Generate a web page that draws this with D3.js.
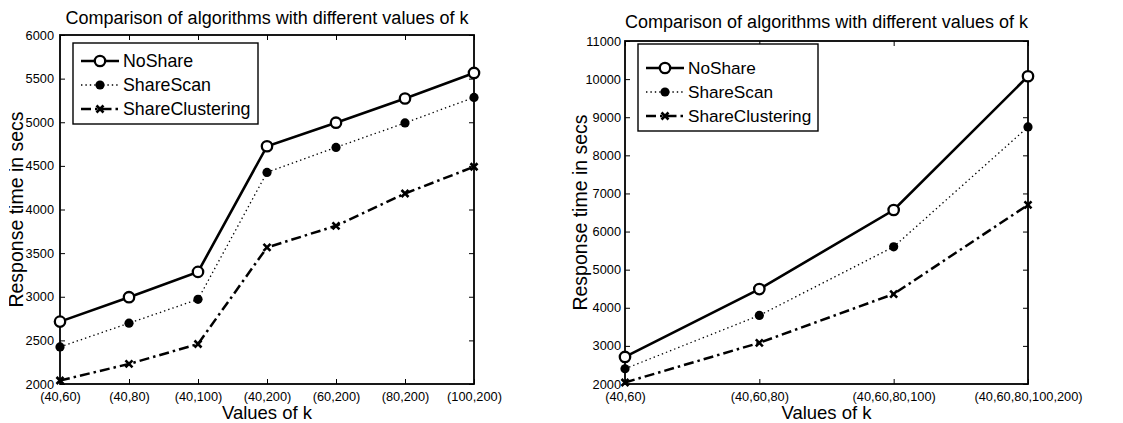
<!DOCTYPE html>
<html>
<head>
<meta charset="utf-8">
<script src="https://cdn.jsdelivr.net/npm/d3@7"></script>
<style>
  body { margin: 0; background: #fff; }
  svg text { font-family: "Liberation Sans", Arial, Helvetica, sans-serif; fill: #000; }
</style>
</head>
<body>
<svg id="chart" width="1123" height="423"></svg>
<script>
// ---- data ----
var seriesNames = ['NoShare', 'ShareScan', 'ShareClustering'];

var leftCategories = ['(40,60)', '(40,80)', '(40,100)', '(40,200)', '(60,200)', '(80,200)', '(100,200)'];
var leftNoShare = [2715, 2995, 3285, 4725, 4995, 5272, 5565];
var leftShareScan = [2425, 2697, 2970, 4425, 4712, 4992, 5285];
var leftShareClustering = [2040, 2230, 2458, 3565, 3813, 4183, 4490];
var leftTicks = [2000, 2500, 3000, 3500, 4000, 4500, 5000, 5500, 6000];

var rightCategories = ['(40,60)', '(40,60,80)', '(40,60,80,100)', '(40,60,80,100,200)'];
var rightNoShare = [2710, 4490, 6565, 10075];
var rightShareScan = [2400, 3800, 5600, 8745];
var rightShareClustering = [2040, 3080, 4360, 6700];
var rightTicks = [2000, 3000, 4000, 5000, 6000, 7000, 8000, 9000, 10000, 11000];

var titleText = 'Comparison of algorithms with different values of k';
var xLabelText = 'Values of k';
var yLabelText = 'Response time in secs';

// ---- drawing ----
var svg = d3.select('#chart');

var styles = {
  NoShare:         { width: 2.6, dash: null,          marker: 'circle' },
  ShareScan:       { width: 1.3, dash: '1.4,3',       marker: 'dot' },
  ShareClustering: { width: 2.5, dash: '10,4,2.5,4',  marker: 'cross' }
};

function drawMarker(g, type, x, y) {
  if (type === 'circle') {
    g.append('circle').attr('cx', x).attr('cy', y).attr('r', 5.2)
      .attr('fill', '#fff').attr('stroke', '#000').attr('stroke-width', 2.3);
  } else if (type === 'dot') {
    g.append('circle').attr('cx', x).attr('cy', y).attr('r', 4.6).attr('fill', '#000');
  } else {
    var s = 3.5;
    g.append('path')
      .attr('d', 'M' + (x - s) + ',' + (y - s) + 'L' + (x + s) + ',' + (y + s) +
                 'M' + (x - s) + ',' + (y + s) + 'L' + (x + s) + ',' + (y - s))
      .attr('stroke', '#000').attr('stroke-width', 2.6);
  }
}

function drawPanel(p) {
  var g = svg.append('g');

  var x = d3.scalePoint().domain(p.categories).range([p.x0, p.x1]);
  var y = d3.scaleLinear().domain([p.ticks[0], p.ticks[p.ticks.length - 1]]).range([p.y1, p.y0]);

  // axes, ticks pointing inward on all four sides
  var tick = 5;
  g.append('g').attr('transform', 'translate(0,' + p.y1 + ')')
    .call(d3.axisBottom(x).tickSize(-tick).tickPadding(8))
    .call(function(a) { a.select('.domain').remove(); a.selectAll('text').attr('font-size', 12.8); });
  g.append('g').attr('transform', 'translate(0,' + p.y0 + ')')
    .call(d3.axisTop(x).tickSize(-tick).tickFormat(''))
    .call(function(a) { a.select('.domain').remove(); });
  g.append('g').attr('transform', 'translate(' + p.x0 + ',0)')
    .call(d3.axisLeft(y).tickValues(p.ticks).tickSize(-tick).tickPadding(p.yPad).tickFormat(d3.format('d')))
    .call(function(a) { a.select('.domain').remove(); a.selectAll('text').attr('font-size', 12.8); });
  g.append('g').attr('transform', 'translate(' + p.x1 + ',0)')
    .call(d3.axisRight(y).tickValues(p.ticks).tickSize(-tick).tickFormat(''))
    .call(function(a) { a.select('.domain').remove(); });
  g.selectAll('.tick line').attr('stroke', '#000');

  g.append('rect')
    .attr('x', p.x0).attr('y', p.y0)
    .attr('width', p.x1 - p.x0).attr('height', p.y1 - p.y0)
    .attr('fill', 'none').attr('stroke', '#000').attr('stroke-width', 1.8);

  // series
  var line = d3.line()
    .x(function(d, i) { return x(p.categories[i]); })
    .y(function(d) { return y(d); });

  seriesNames.forEach(function(name, k) {
    var st = styles[name];
    g.append('path').datum(p.values[k])
      .attr('d', line)
      .attr('fill', 'none').attr('stroke', '#000')
      .attr('stroke-width', st.width)
      .attr('stroke-dasharray', st.dash);
    p.values[k].forEach(function(v, i) {
      drawMarker(g, st.marker, x(p.categories[i]), y(v));
    });
  });

  // title and labels
  var cx = (p.x0 + p.x1) / 2;
  g.append('text').attr('x', cx).attr('y', p.titleY)
    .attr('text-anchor', 'middle').attr('font-size', 18).text(titleText);
  g.append('text').attr('x', cx).attr('y', 419)
    .attr('text-anchor', 'middle').attr('font-size', 18.5).text(xLabelText);

  var clipId = 'clip' + p.id;
  svg.append('clipPath').attr('id', clipId)
    .append('rect').attr('x', p.clipX).attr('y', 0).attr('width', 60).attr('height', 423);
  g.append('g').attr('clip-path', 'url(#' + clipId + ')')
    .append('text')
    .attr('transform', 'translate(' + p.yLabelX + ',' + ((p.y0 + p.y1) / 2) + ') rotate(-90)')
    .attr('text-anchor', 'middle').attr('font-size', 19.5).text(yLabelText);

  // legend
  var lg = g.append('g');
  lg.append('rect')
    .attr('x', p.legend.x).attr('y', p.legend.y)
    .attr('width', p.legend.w).attr('height', p.legend.h)
    .attr('fill', '#fff').attr('stroke', '#000').attr('stroke-width', 1.4);
  seriesNames.forEach(function(name, k) {
    var st = styles[name];
    var ly = p.legend.y + p.legend.first + k * p.legend.step;
    var lx = p.legend.x + 8;
    lg.append('line')
      .attr('x1', lx).attr('x2', lx + 38).attr('y1', ly).attr('y2', ly)
      .attr('stroke', '#000').attr('stroke-width', st.width)
      .attr('stroke-dasharray', st.dash);
    drawMarker(lg, st.marker, lx + 19, ly);
    lg.append('text').attr('x', lx + 42).attr('y', ly + 6.3)
      .attr('font-size', p.legend.font).text(name);
  });
}

drawPanel({
  id: 'L', categories: leftCategories, ticks: leftTicks,
  values: [leftNoShare, leftShareScan, leftShareClustering],
  x0: 60, x1: 474, y0: 35, y1: 384, yPad: 6,
  titleY: 24, yLabelX: 23, clipX: 9,
  legend: { x: 73, y: 43, w: 185, h: 81, first: 18, step: 24, font: 17.8 }
});

drawPanel({
  id: 'R', categories: rightCategories, ticks: rightTicks,
  values: [rightNoShare, rightShareScan, rightShareClustering],
  x0: 625, x1: 1028, y0: 41, y1: 384, yPad: 4,
  titleY: 28, yLabelX: 587, clipX: 569,
  legend: { x: 638, y: 44, w: 180, h: 87, first: 24, step: 24, font: 17.2 }
});
</script>
</body>
</html>
